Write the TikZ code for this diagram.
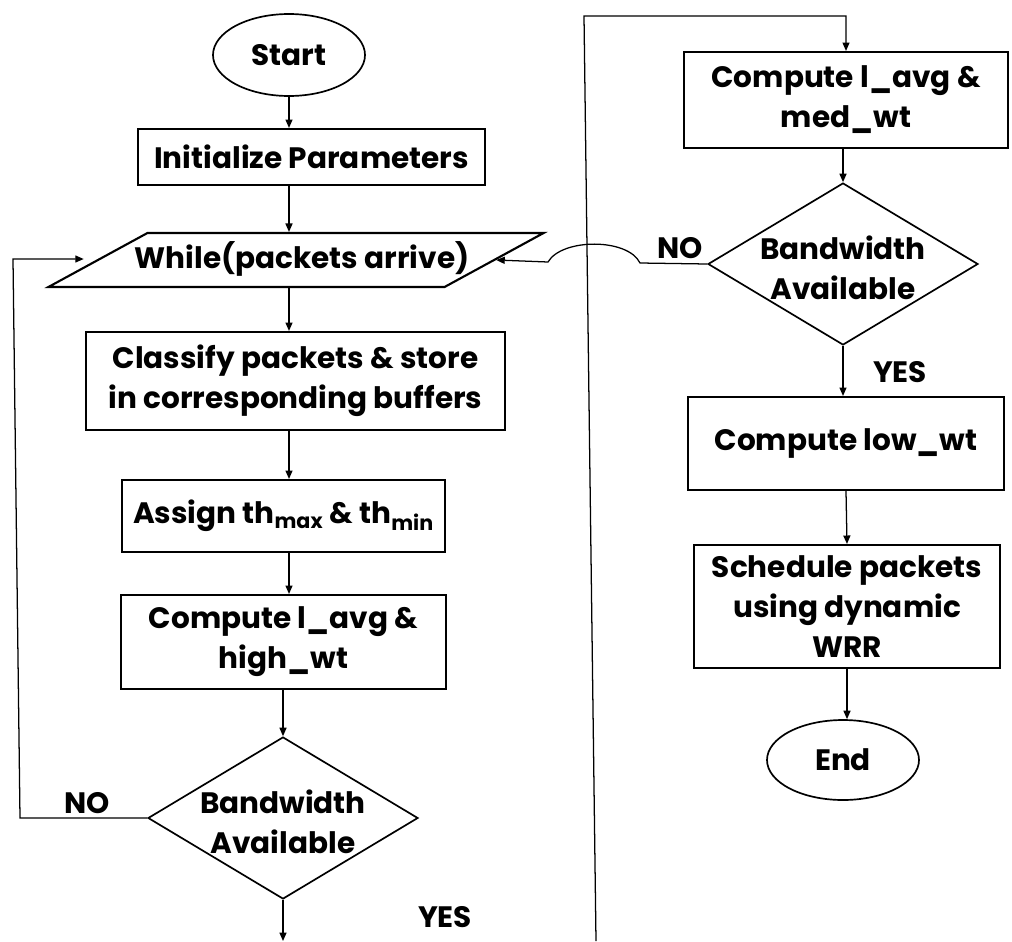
\documentclass[tikz,border=0pt]{standalone}
\usepackage{fontspec}
\setmainfont{Poppins}
\usetikzlibrary{arrows.meta,shapes.geometric}
\def\pxu{0.025cm}
\tikzset{
	every node/.style={font=\fontsize{21}{28.5}\selectfont\bfseries, inner sep=0pt},
	box/.style={draw, line width=1.5pt, align=center},
	term/.style={draw, ellipse, line width=1.2pt, minimum width=152*\pxu, minimum height=82*\pxu},
	decision/.style={draw, diamond, line width=1.2pt, minimum width=270*\pxu, minimum height=162*\pxu},
	io/.style={draw, trapezium, trapezium left angle=28.6, trapezium right angle=151.4, line width=1.5pt, text height=0.875cm, text depth=0.475cm},
	flow/.style={line width=0.9pt, -{Triangle[length=6pt,width=5pt]}}
}
\newcommand{\bwtext}{\makebox[0pt]{\raisebox{-0.375cm}[0pt][0pt]{\begin{tabular}{@{}c@{}}Bandwidth\\Available\end{tabular}}}}

\begin{document}
\begin{tikzpicture}[x=\pxu, y=-\pxu]
		\useasboundingbox (0,0) rectangle (1012,941);
		
		%%%%% LEFT COLUMN %%%%%
		
		\node[term] (start) at (289,55) {Start};
		\node[box, minimum width=347*\pxu, minimum height=56*\pxu] (init) at (311.5,157) {Initialize Parameters};
		\node[io] (while) at (296,260) {\makebox[7.425cm]{\hspace{0.3cm}While(packets arrive)}};
		\node[box, minimum width=419*\pxu, minimum height=98*\pxu] (classify) at (295.5,381) {Classify packets \& store\\in corresponding buffers};
		\node[box, minimum width=323*\pxu, minimum height=72*\pxu] (assign) at (283.5,516) {Assign th\textsubscript{max} \& th\textsubscript{min}};
		\node[box, minimum width=325*\pxu, minimum height=94*\pxu] (high) at (283.5,642) {Compute l\_avg \&\\high\_wt};
		\node[decision] (bwL) at (283,818) {\bwtext};
		
		\coordinate (axisL) at (289,0);
		\coordinate (loopB) at (20,818);
		\coordinate (loopT) at (13,259);
		\coordinate (outL) at (283,941);
		
		\draw[flow] (start.south) -- (axisL |- init.north);
		\draw[flow] (axisL |- init.south) -- (axisL |- while.north);
		\draw[flow] (axisL |- while.south) -- (axisL |- classify.north);
		\draw[flow] (axisL |- classify.south) -- (axisL |- assign.north);
		\draw[flow] (axisL |- assign.south) -- (axisL |- high.north);
		\draw[flow] (bwL.north |- high.south) -- (bwL.north);
		\draw[flow] (bwL.south) -- (outL);
		\draw[flow, shorten >=0.3cm] (bwL.west) -- (loopB) -- (loopT) -- (loopT -| while.west);
		
		\node (noL) at (87,803) {NO};
		\node (yesL) at (445,917) {YES};
		
		%%%%% RIGHT COLUMN %%%%%
		
		\node[box, minimum width=324*\pxu, minimum height=96*\pxu] (med) at (846,100) {Compute l\_avg \&\\med\_wt};
		\node[decision] (bwR) at (843,264) {\bwtext};
		\node[box, minimum width=316*\pxu, minimum height=93*\pxu] (low) at (846,443.5) {Compute low\_wt};
		\node[box, minimum width=306*\pxu, minimum height=123*\pxu] (sched) at (847,606.5) {Schedule packets\\using dynamic\\WRR};
		\node[term, minimum height=80*\pxu] (stop) at (843,760) {End};
		
		\coordinate (lineB) at (596,941);
		\coordinate (lineT) at (584,16);
		\coordinate (hopR) at (640,263);
		\coordinate (hopL) at (548,262);
		
		\draw[flow] (lineB) -- (lineT) -- (lineT -| med.north) -- (med.north);
		\draw[flow] (bwR.north |- med.south) -- (bwR.north);
		\draw[flow] (bwR.west) -- (hopR) .. controls (628,238) and (562,238) .. (hopL) -- (while.east);
		\draw[flow] (bwR.south) -- (bwR.south |- low.north);
		\draw[flow] (low.south) -- (sched.north);
		\draw[flow] (sched.south) -- (sched.south |- stop.north);
		
		\node (noR) at (680,248) {NO};
		\node (yesR) at (900,372) {YES};
		
\end{tikzpicture}
\end{document}
